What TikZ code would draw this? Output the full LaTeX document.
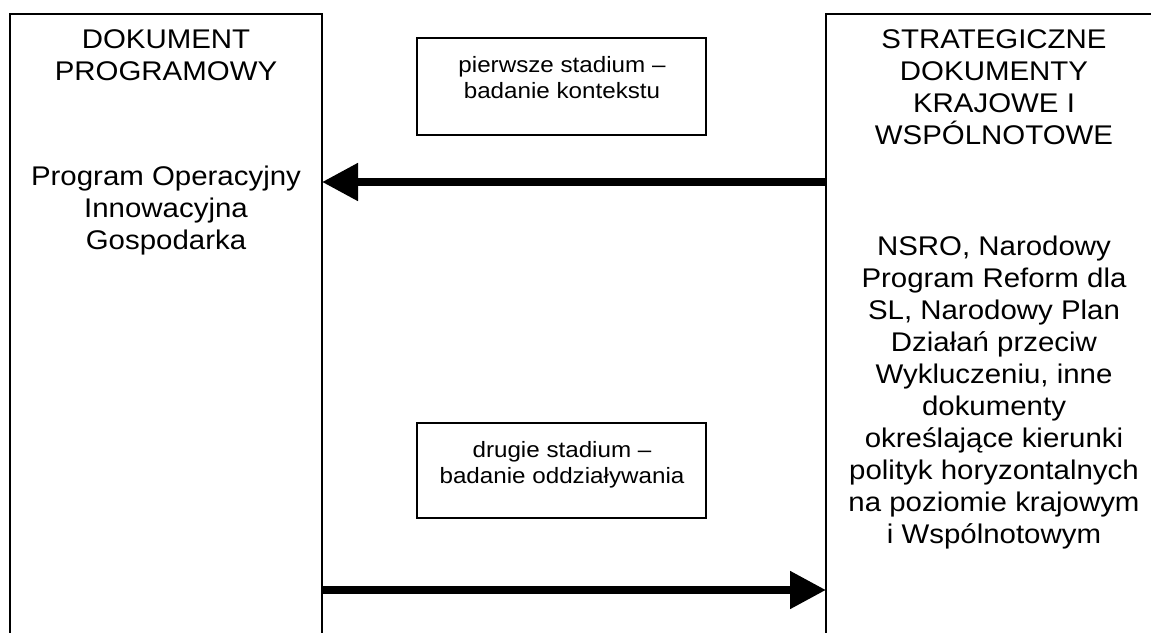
\documentclass[tikz,border=0pt]{standalone}
\usepackage{fontspec}
\setmainfont{Liberation Sans}[FakeStretch=1.09]
\usetikzlibrary{arrows.meta}

\begin{document}
\begin{tikzpicture}[x=1pt,y=-1pt,
	docbox/.style={draw, line width=1.3pt, inner sep=0pt, outer sep=0pt, anchor=north west},
	bigtext/.style={anchor=north, inner sep=0pt, align=center, font=\fontsize{27}{32}\selectfont},
	smalltext/.style={anchor=north, inner sep=0pt, align=center, font=\fontsize{22.2}{26.5}\selectfont},
	flow/.style={line width=8pt, -{Triangle[length=36pt,width=36pt]}}]
	\useasboundingbox (0,0) rectangle (1151,632);
	\node[docbox, minimum width=312pt, minimum height=660pt] (prog) at (10,14) {};
	\node[docbox, minimum width=340pt, minimum height=660pt] (strat) at (826,14) {};
	\node[docbox, minimum width=289pt, minimum height=97pt] (first) at (417,38) {};
	\node[docbox, minimum width=289pt, minimum height=95pt] (second) at (417,423) {};
	\node[bigtext] (progtitle) at (166,29.5) {DOKUMENT\\PROGRAMOWY};
	\node[bigtext] (progname) at (166,165.5) {Program Operacyjny\\Innowacyjna\\Gospodarka};
	\node[bigtext] (strattitle) at (994,29.5) {STRATEGICZNE\\DOKUMENTY\\KRAJOWE I\\WSPÓLNOTOWE};
	\node[bigtext] (stratlist) at (994,235.5) {NSRO, Narodowy\\Program Reform dla\\SL, Narodowy Plan\\Działań przeciw\\Wykluczeniu, inne\\dokumenty\\określające kierunki\\polityk horyzontalnych\\na poziomie krajowym\\i Wspólnotowym};
	\node[smalltext] (firsttext) at (562,56) {pierwsze stadium –\\badanie kontekstu};
	\node[smalltext] (secondtext) at (562,441) {drugie stadium –\\badanie oddziaływania};
	\coordinate (upper) at (0,182);
	\coordinate (lower) at (0,590);
	\draw[flow] (strat.west |- upper) -- (prog.east |- upper);
	\draw[flow] (prog.east |- lower) -- (strat.west |- lower);
\end{tikzpicture}
\end{document}
